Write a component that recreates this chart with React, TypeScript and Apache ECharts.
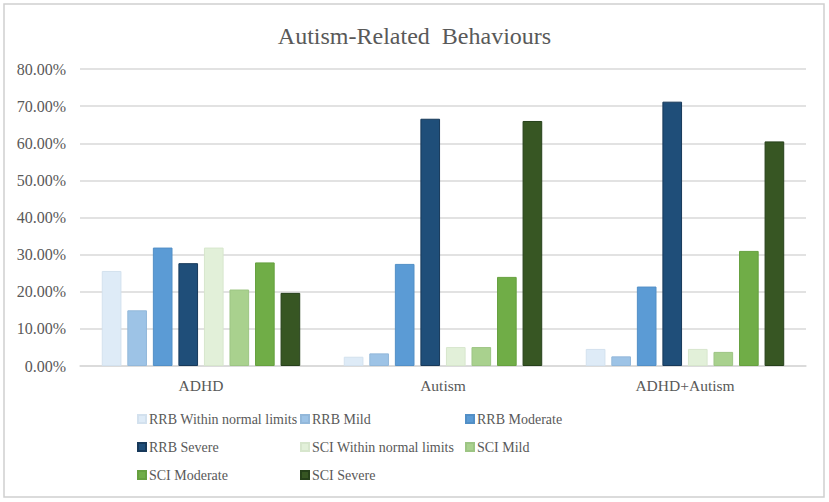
import React, { useEffect, useRef } from "react";
import * as echarts from "echarts";

const categories = ["ADHD", "Autism", "ADHD+Autism"];
const seriesNames = [
  "RRB Within normal limits",
  "RRB Mild",
  "RRB Moderate",
  "RRB Severe",
  "SCI Within normal limits",
  "SCI Mild",
  "SCI Moderate",
  "SCI Severe",
];
const rrbWithin = [25.6, 2.5, 4.6];
const rrbMild = [15.0, 3.4, 2.6];
const rrbModerate = [31.9, 27.5, 21.4];
const rrbSevere = [27.7, 66.6, 71.2];
const sciWithin = [31.9, 5.1, 4.6];
const sciMild = [20.6, 5.1, 3.8];
const sciModerate = [27.9, 24.0, 31.0];
const sciSevere = [19.7, 66.0, 60.5];
const seriesValues = [rrbWithin, rrbMild, rrbModerate, rrbSevere, sciWithin, sciMild, sciModerate, sciSevere];
const yTicks = { min: 0, max: 80, interval: 10 };

const colors = ["#DEEBF7", "#9DC3E6", "#5B9BD5", "#1F4E79", "#E2F0D9", "#A9D18E", "#70AD47", "#375623"];
const borders = ["#D3E1EE", "#93B8DA", "#528FC6", "#17395A", "#D7E6CD", "#9DC584", "#66A03F", "#26401A"];

const legendPos = [
  [137, 420], [300, 420], [465, 420],
  [137, 448], [300, 448], [465, 448],
  [137, 476], [300, 476],
];

const FONT = '"Liberation Serif", "Times New Roman", serif';

export default function App() {
  const ref = useRef<HTMLDivElement>(null);
  useEffect(() => {
    document.body.style.margin = "0";
    const chart = echarts.init(ref.current!, null, { renderer: "svg" });
    chart.setOption({
      animation: false,
      backgroundColor: "#ffffff",
      textStyle: { fontFamily: FONT },
      title: {
        text: "Autism-Related  Behaviours",
        left: "center",
        top: 19,
        textStyle: { fontFamily: FONT, fontSize: 24, fontWeight: "normal", color: "#595959" },
      },
      graphic: [
        {
          type: "rect",
          shape: { x: 4, y: 4, width: 820, height: 493 },
          style: { fill: "none", stroke: "#d0d0d0", lineWidth: 1.5 },
          silent: true,
        },
      ],
      legend: seriesNames.map((n, i) => ({
        data: [n],
        left: legendPos[i][0],
        top: legendPos[i][1] - 8,
        padding: 0,
        itemWidth: 8,
        itemHeight: 8,
        icon: "rect",
        textStyle: { fontFamily: FONT, fontSize: 14, color: "#595959", padding: [0, 0, 0, -2] },
        selectedMode: false,
      })),
      grid: { left: 80, right: 23, top: 69, bottom: 136, containLabel: false },
      xAxis: {
        type: "category",
        data: categories,
        axisLine: { lineStyle: { color: "#d9d9d9", width: 1.5 } },
        axisTick: { show: false },
        axisLabel: { fontFamily: FONT, fontSize: 15.5, color: "#595959", margin: 11 },
      },
      yAxis: {
        type: "value",
        min: yTicks.min,
        max: yTicks.max,
        interval: yTicks.interval,
        axisLine: { show: false },
        axisTick: { show: false },
        splitLine: { lineStyle: { color: "#d9d9d9", width: 1.5 } },
        axisLabel: {
          fontFamily: FONT,
          fontSize: 16,
          color: "#595959",
          margin: 14,
          formatter: (v: number) => v.toFixed(2) + "%",
        },
      },
      series: seriesNames.map((n, i) => ({
        name: n,
        type: "bar",
        data: seriesValues[i],
        barGap: "30%",
        barCategoryGap: "18%",
        itemStyle: { color: colors[i], borderColor: borders[i], borderWidth: 1 },
      })),
    });
    return () => chart.dispose();
  }, []);
  return <div ref={ref} style={{ width: 829, height: 502 }} />;
}
